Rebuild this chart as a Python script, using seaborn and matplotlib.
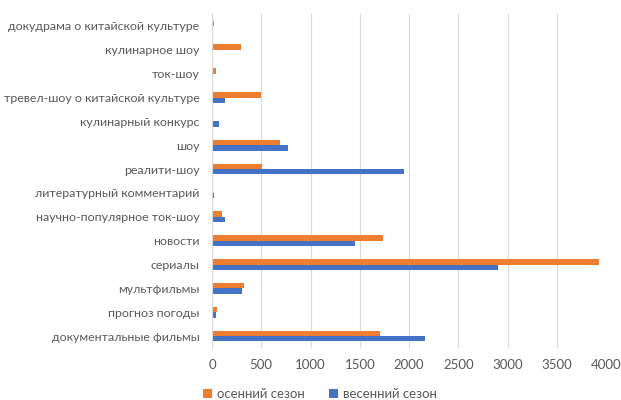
import matplotlib
matplotlib.use("Agg")
import matplotlib.pyplot as plt
from matplotlib.ticker import FixedLocator
import seaborn as sns
import pandas as pd
import numpy as np

categories = [
    "документальные фильмы",
    "прогноз погоды",
    "мультфильмы",
    "сериалы",
    "новости",
    "научно-популярное ток-шоу",
    "литературный комментарий",
    "реалити-шоу",
    "шоу",
    "кулинарный конкурс",
    "тревел-шоу о китайской культуре",
    "ток-шоу",
    "кулинарное шоу",
    "докудрама о китайской культуре",
]
autumn = [1705, 50, 325, 3930, 1740, 100, 0, 510, 690, 0, 500, 45, 295, 20]
spring = [2160, 44, 305, 2900, 1450, 130, 20, 1950, 770, 70, 130, 0, 0, 0]
series_names = ["осенний сезон", "весенний сезон"]
xticks = [0, 500, 1000, 1500, 2000, 2500, 3000, 3500, 4000]

df = pd.DataFrame({
    "category": categories * 2,
    "value": autumn + spring,
    "season": [series_names[0]] * len(categories) + [series_names[1]] * len(categories),
})

sns.set_theme(style="white")
plt.rcParams["font.family"] = ["Lato", "DejaVu Sans"]
text_color = "#595959"
grid_color = "#D9D9D9"
fs = 8.9

fig = plt.figure(figsize=(6.21, 4.0), dpi=100)
ax = fig.add_axes([212 / 621, 1 - 348 / 400, (606 - 212) / 621, (348 - 14) / 400])

sns.barplot(
    data=df, y="category", x="value", hue="season",
    order=categories[::-1], hue_order=series_names,
    palette=["#ED7D31", "#4472C4"], orient="h", width=0.45,
    saturation=1, linewidth=0, ax=ax, legend=True,
)

ax.set_xlim(0, 4000)
ax.set_xticks(xticks)
ax.set_xticklabels([str(t) for t in xticks], fontsize=fs + 0.6, color=text_color)
ax.set_ylim(len(categories) - 0.5, -0.5)
ax.tick_params(axis="y", which="major", length=0, labelsize=fs, labelcolor=text_color, pad=9)
ax.tick_params(axis="x", which="major", length=0, pad=8)
ax.yaxis.set_minor_locator(FixedLocator(np.arange(-0.5, len(categories), 1.0)))
ax.tick_params(axis="y", which="minor", length=4, width=0.8, color="#CFCFCF")
ax.set_xlabel("")
ax.set_ylabel("")
ax.grid(axis="x", color=grid_color, linewidth=0.8)
ax.set_axisbelow(True)
for side in ["top", "right", "bottom"]:
    ax.spines[side].set_visible(False)
ax.spines["left"].set_color(grid_color)
ax.spines["left"].set_linewidth(0.8)

handles, labels = ax.get_legend_handles_labels()
ax.legend_.remove()
fig.legend(
    handles, labels, loc="center", bbox_to_anchor=(0.515, 1 - 394 / 400), ncol=2,
    frameon=False, fontsize=fs + 0.6, labelcolor=text_color, handlelength=0.7,
    handleheight=0.7, handletextpad=0.4, columnspacing=1.8,
)

fig.savefig("out.png", dpi=100)
